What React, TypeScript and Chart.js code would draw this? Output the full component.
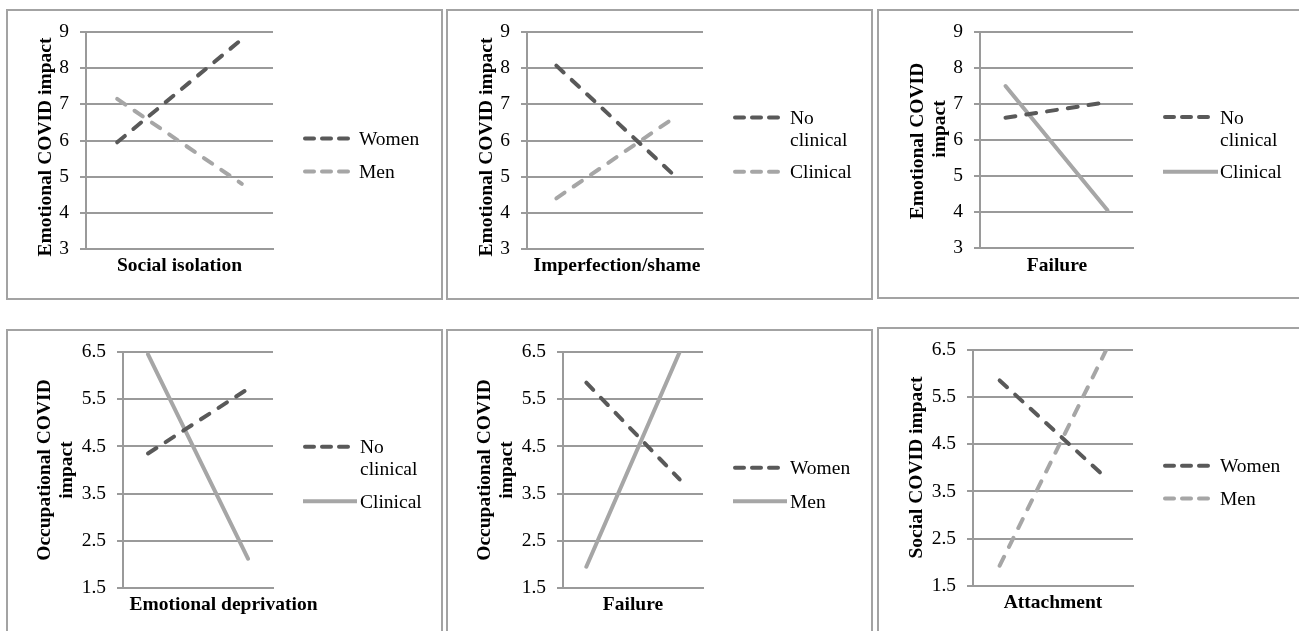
import React, { useEffect, useRef } from 'react';
import { Chart, registerables } from 'chart.js';

Chart.register(...registerables);

// ---------- data ----------
const X_LEVELS = [-1, 1]; // low / high level of the schema (moderation plot)

const GENDER_LABELS = [['Women'], ['Men']];
const CLINICAL_LABELS = [['No', 'clinical'], ['Clinical']];

const ISOLATION_WOMEN = [5.95, 8.8];
const ISOLATION_MEN = [7.15, 4.8];
const SHAME_NO_CLINICAL = [8.07, 5.05];
const SHAME_CLINICAL = [4.4, 6.62];
const FAILURE_EMO_NO_CLINICAL = [6.62, 7.05];
const FAILURE_EMO_CLINICAL = [7.5, 4.05];
const DEPRIVATION_NO_CLINICAL = [4.35, 5.72];
const DEPRIVATION_CLINICAL = [6.45, 2.12];
const FAILURE_OCC_WOMEN = [5.85, 3.8];
const FAILURE_OCC_MEN = [1.95, 6.5];
const ATTACHMENT_WOMEN = [5.85, 3.78];
const ATTACHMENT_MEN = [1.93, 6.5];

const EMOTIONAL_RANGE = [3, 9];
const SECOND_ROW_RANGE = [1.5, 6.5];
const TICK_STEP = 1;

const X_TITLES = [
  'Social isolation',
  'Imperfection/shame',
  'Failure',
  'Emotional deprivation',
  'Failure',
  'Attachment',
];
const Y_TITLES = [
  ['Emotional COVID impact'],
  ['Emotional COVID impact'],
  ['Emotional COVID', 'impact'],
  ['Occupational COVID', 'impact'],
  ['Occupational COVID', 'impact'],
  ['Social COVID impact'],
];

// ---------- styles ----------
const FONT = '"Liberation Serif", "Times New Roman", Times, serif';
const FONT_SIZE = 19.5;
const DARK = '#595959';
const LIGHT = '#a6a6a6';
const GRID = '#9a9a9a';
const BOX = '#a3a3a3';
const PLOT_DASH = [10, 11];
const LEGEND_DASH = [9, 8];

const STYLES: Record<string, { color: string; dash: number[] }> = {
  darkDash: { color: DARK, dash: PLOT_DASH },
  lightDash: { color: LIGHT, dash: PLOT_DASH },
  lightSolid: { color: LIGHT, dash: [] },
};

type Series = { label: string[]; values: number[]; style: string };
type PanelDef = {
  box: number[];
  plot: number[];
  range: number[];
  series: Series[];
  xTitle: string;
  yTitle: string[];
  yT: { x: number; y: number; gap: number; shift?: number[] };
  xT: { x: number; y: number };
  lg: { x1: number; x2: number; solidX2: number; textX: number; baselines: number[] };
};

const PANELS: PanelDef[] = [
  {
    box: [6, 9, 437, 291],
    plot: [86, 32, 273, 249],
    range: EMOTIONAL_RANGE,
    series: [
      { label: GENDER_LABELS[0], values: ISOLATION_WOMEN, style: 'darkDash' },
      { label: GENDER_LABELS[1], values: ISOLATION_MEN, style: 'lightDash' },
    ],
    xTitle: X_TITLES[0],
    yTitle: Y_TITLES[0],
    yT: { x: 51, y: 147, gap: 22 },
    xT: { x: 179.5, y: 270.5 },
    lg: { x1: 303, x2: 350, solidX2: 357, textX: 359, baselines: [145, 178] },
  },
  {
    box: [446, 9, 427, 291],
    plot: [527, 32, 703, 249],
    range: EMOTIONAL_RANGE,
    series: [
      { label: CLINICAL_LABELS[0], values: SHAME_NO_CLINICAL, style: 'darkDash' },
      { label: CLINICAL_LABELS[1], values: SHAME_CLINICAL, style: 'lightDash' },
    ],
    xTitle: X_TITLES[1],
    yTitle: Y_TITLES[1],
    yT: { x: 491.5, y: 147, gap: 22 },
    xT: { x: 617, y: 271 },
    lg: { x1: 733, x2: 782, solidX2: 788, textX: 790, baselines: [124, 178.3] },
  },
  {
    box: [877, 9, 440, 290],
    plot: [980, 32, 1133, 248],
    range: EMOTIONAL_RANGE,
    series: [
      { label: CLINICAL_LABELS[0], values: FAILURE_EMO_NO_CLINICAL, style: 'darkDash' },
      { label: CLINICAL_LABELS[1], values: FAILURE_EMO_CLINICAL, style: 'lightSolid' },
    ],
    xTitle: X_TITLES[2],
    yTitle: Y_TITLES[2],
    yT: { x: 923, y: 141, gap: 22, shift: [0, 12] },
    xT: { x: 1057, y: 270.5 },
    lg: { x1: 1163, x2: 1212, solidX2: 1218, textX: 1220, baselines: [123.5, 178.3] },
  },
  {
    box: [6, 329, 437, 330],
    plot: [123, 352, 273, 588],
    range: SECOND_ROW_RANGE,
    series: [
      { label: CLINICAL_LABELS[0], values: DEPRIVATION_NO_CLINICAL, style: 'darkDash' },
      { label: CLINICAL_LABELS[1], values: DEPRIVATION_CLINICAL, style: 'lightSolid' },
    ],
    xTitle: X_TITLES[3],
    yTitle: Y_TITLES[3],
    yT: { x: 50, y: 470, gap: 22 },
    xT: { x: 223.5, y: 610 },
    lg: { x1: 303, x2: 352, solidX2: 357, textX: 360, baselines: [453.3, 507.7] },
  },
  {
    box: [446, 329, 427, 330],
    plot: [563, 352, 703, 588],
    range: SECOND_ROW_RANGE,
    series: [
      { label: GENDER_LABELS[0], values: FAILURE_OCC_WOMEN, style: 'darkDash' },
      { label: GENDER_LABELS[1], values: FAILURE_OCC_MEN, style: 'lightSolid' },
    ],
    xTitle: X_TITLES[4],
    yTitle: Y_TITLES[4],
    yT: { x: 490, y: 470, gap: 22 },
    xT: { x: 633, y: 610 },
    lg: { x1: 733, x2: 782, solidX2: 787, textX: 790, baselines: [474.3, 507.7] },
  },
  {
    box: [877, 327, 440, 330],
    plot: [973, 348, 1133, 586],
    range: SECOND_ROW_RANGE,
    series: [
      { label: GENDER_LABELS[0], values: ATTACHMENT_WOMEN, style: 'darkDash' },
      { label: GENDER_LABELS[1], values: ATTACHMENT_MEN, style: 'lightDash' },
    ],
    xTitle: X_TITLES[5],
    yTitle: Y_TITLES[5],
    yT: { x: 921.5, y: 467.5, gap: 22 },
    xT: { x: 1053, y: 608 },
    lg: { x1: 1163, x2: 1212, solidX2: 1218, textX: 1220, baselines: [472.3, 505] },
  },
];

// ---------- plugin for titles and legend ----------
const decorPlugin = {
  id: 'decor',
  afterDraw(chart: any, _args: any, o: any) {
    const p: PanelDef = o.panel;
    if (!p) return;
    const ctx: CanvasRenderingContext2D = chart.ctx;
    const ox = p.box[0];
    const oy = p.box[1];
    ctx.save();
    ctx.fillStyle = '#000';
    ctx.font = `bold ${FONT_SIZE}px ${FONT}`;

    // y-axis title (rotated)
    ctx.save();
    ctx.translate(p.yT.x - ox, p.yT.y - oy);
    ctx.rotate(-Math.PI / 2);
    ctx.textAlign = 'center';
    ctx.textBaseline = 'alphabetic';
    p.yTitle.forEach((t, i) => {
      const sh = p.yT.shift ? p.yT.shift[i] || 0 : 0;
      ctx.fillText(t, sh, i * p.yT.gap);
    });
    ctx.restore();

    // x-axis title
    ctx.textAlign = 'center';
    ctx.textBaseline = 'alphabetic';
    ctx.fillText(p.xTitle, p.xT.x - ox, p.xT.y - oy);

    // legend
    ctx.font = `${FONT_SIZE}px ${FONT}`;
    ctx.textAlign = 'left';
    p.series.forEach((s, i) => {
      const st = STYLES[s.style];
      const base = p.lg.baselines[i] - oy;
      const ly = base - 6.5;
      ctx.save();
      ctx.strokeStyle = st.color;
      ctx.lineWidth = 4;
      ctx.beginPath();
      if (st.dash.length) {
        ctx.setLineDash(LEGEND_DASH);
        ctx.lineCap = 'round';
        ctx.moveTo(p.lg.x1 - ox + 2, ly);
        ctx.lineTo(p.lg.x2 - ox - 2, ly);
      } else {
        ctx.lineCap = 'butt';
        ctx.moveTo(p.lg.x1 - ox, ly);
        ctx.lineTo(p.lg.solidX2 - ox, ly);
      }
      ctx.stroke();
      ctx.restore();
      ctx.fillStyle = '#000';
      s.label.forEach((t, j) => ctx.fillText(t, p.lg.textX - ox, base + j * 22));
    });
    ctx.restore();
  },
};

function makeConfig(p: PanelDef): any {
  const [bx, by, bw, bh] = p.box;
  const [pl, pt, pr, pb] = p.plot;
  const yW = pl - bx;
  const xH = by + bh - pb;
  return {
    type: 'line',
    data: {
      datasets: p.series.map((s) => ({
        label: s.label.join(' '),
        data: X_LEVELS.map((x, i) => ({ x, y: s.values[i] })),
        borderColor: STYLES[s.style].color,
        backgroundColor: STYLES[s.style].color,
        borderDash: STYLES[s.style].dash,
        borderWidth: 4,
        borderCapStyle: 'round',
        pointRadius: 0,
        pointHoverRadius: 0,
        tension: 0,
        fill: false,
      })),
    },
    options: {
      responsive: false,
      animation: false,
      events: [],
      layout: { padding: { left: 0, top: pt - by, right: bx + bw - pr, bottom: 0 } },
      plugins: {
        legend: { display: false },
        tooltip: { enabled: false },
        title: { display: false },
        decor: { panel: p },
      },
      scales: {
        x: {
          type: 'linear',
          min: -1.5,
          max: 1.5,
          ticks: { display: false },
          grid: { display: false, drawTicks: false },
          border: { display: true, color: GRID, width: 2 },
          afterFit: (s: any) => {
            s.height = xH;
          },
        },
        y: {
          type: 'linear',
          min: p.range[0],
          max: p.range[1],
          ticks: {
            stepSize: TICK_STEP,
            padding: 11,
            color: '#000',
            autoSkip: false,
            font: { family: FONT, size: FONT_SIZE },
          },
          grid: { color: GRID, lineWidth: 2, tickLength: 6 },
          border: { display: true, color: GRID, width: 2 },
          afterFit: (s: any) => {
            s.width = yW;
          },
        },
      },
    },
    plugins: [decorPlugin],
  };
}

function Panel({ p }: { p: PanelDef }) {
  const ref = useRef<HTMLCanvasElement>(null);
  useEffect(() => {
    if (!ref.current) return;
    const chart = new Chart(ref.current, makeConfig(p));
    return () => chart.destroy();
  }, [p]);
  const [bx, by, bw, bh] = p.box;
  return (
    <>
      <canvas
        ref={ref}
        width={bw}
        height={bh}
        style={{ position: 'absolute', left: bx, top: by, width: bw, height: bh }}
      />
      <div
        style={{
          position: 'absolute',
          left: bx,
          top: by,
          width: bw,
          height: bh,
          border: `2px solid ${BOX}`,
          boxSizing: 'border-box',
          pointerEvents: 'none',
        }}
      />
    </>
  );
}

export default function App() {
  return (
    <div
      style={{
        position: 'absolute',
        left: 0,
        top: 0,
        width: 1299,
        height: 631,
        overflow: 'hidden',
        background: '#fff',
      }}
    >
      {PANELS.map((p, i) => (
        <Panel key={i} p={p} />
      ))}
    </div>
  );
}
